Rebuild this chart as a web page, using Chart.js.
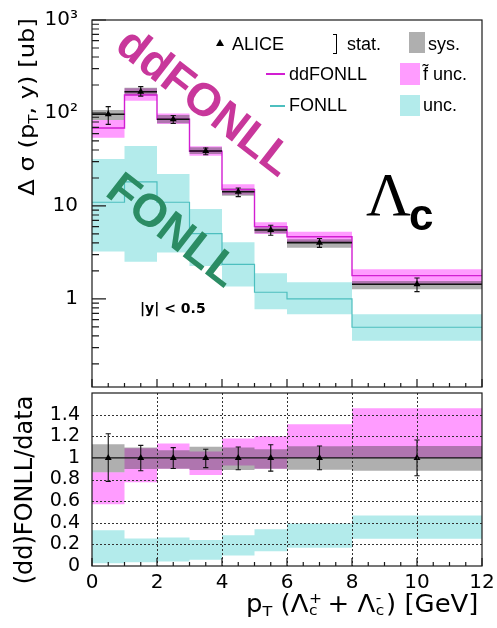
<!DOCTYPE html>
<html>
<head>
<meta charset="utf-8">
<script src="https://cdn.jsdelivr.net/npm/chart.js@4/dist/chart.umd.min.js"></script>
<style>
html,body{margin:0;padding:0;background:#fff;}
#wrap{position:relative;width:497px;height:628px;overflow:hidden;background:#fff;}
canvas{position:absolute;left:0;}
.t{position:absolute;white-space:nowrap;line-height:1;color:#000;}
.leg{font-family:"Liberation Sans",Arial,sans-serif;font-size:18px;}
.sub{font-size:0.62em;vertical-align:-0.3em;}
.ss{position:relative;display:inline-block;width:0.42em;height:0.7em;}
.ss .up{position:absolute;left:0.04em;top:-0.28em;font-size:0.6em;}
.ss .dn{position:absolute;left:0.04em;top:0.55em;font-size:0.6em;}
.sw{position:absolute;}
</style>
</head>
<body>
<div id="wrap">
<canvas id="topChart" width="497" height="410" style="top:0"></canvas>
<canvas id="ratioChart" width="497" height="255" style="top:373px"></canvas>

<!-- axis titles -->
<div class="t" style="left:28px;top:107px;font-family:'DejaVu Sans';font-size:22px;transform:translate(-50%,-50%) rotate(-90deg) scaleX(1.1);">Δ σ (p<span class="sub">T</span>, y) [ub]</div>
<div class="t" style="left:24px;top:490px;font-family:'DejaVu Sans';font-size:24px;transform:translate(-50%,-50%) rotate(-90deg);">(dd)FONLL/data</div>
<div class="t" style="left:246px;top:592px;font-family:'DejaVu Sans';font-size:24px;transform-origin:0 0;transform:scaleX(1.08);">p<span class="sub">T</span> (Λ<span class="ss"><span class="up">+</span><span class="dn">c</span></span> + Λ<span class="ss"><span class="up">-</span><span class="dn">c</span></span>) [GeV]</div>

<!-- legend -->
<div class="sw" style="left:216px;top:39px;width:0;height:0;border-left:4px solid transparent;border-right:4px solid transparent;border-bottom:7px solid #000;"></div>
<div class="t leg" style="left:232px;top:35px;">ALICE</div>
<div class="sw" style="left:333px;top:34px;width:3px;height:18px;border:1px solid #000;border-left:none;"></div>
<div class="t leg" style="left:347px;top:35px;">stat.</div>
<div class="sw" style="left:409px;top:32px;width:16px;height:21px;background:#afafaf;"></div>
<div class="t leg" style="left:428px;top:35px;">sys.</div>

<div class="sw" style="left:266px;top:73px;width:19px;height:1.5px;background:#d21ed2;"></div>
<div class="t leg" style="left:289px;top:65px;">ddFONLL</div>
<div class="sw" style="left:400px;top:63px;width:20px;height:22px;background:#ff9cff;"></div>
<div class="t leg" style="left:423px;top:65px;">f̃ unc.</div>

<div class="sw" style="left:270px;top:105px;width:15px;height:1.5px;background:#4dbfbf;"></div>
<div class="t leg" style="left:289px;top:96px;">FONLL</div>
<div class="sw" style="left:400px;top:95px;width:20px;height:21px;background:#b3ebeb;"></div>
<div class="t leg" style="left:423px;top:96px;">unc.</div>

<!-- annotations -->
<div class="t" style="left:206px;top:101px;transform:translate(-50%,-50%) rotate(38deg);font-family:'Liberation Sans';font-weight:bold;font-size:46px;color:#c8379b;">ddFONLL</div>
<div class="t" style="left:174px;top:229px;transform:translate(-50%,-50%) rotate(38deg);font-family:'Liberation Sans';font-weight:bold;font-size:46px;color:#2b8c64;">FONLL</div>
<div class="t" style="left:366px;top:163px;font-family:'Liberation Serif';font-size:62px;">Λ</div>
<div class="t" style="left:409px;top:193px;font-family:'Liberation Sans';font-weight:bold;font-size:44px;">c</div>
<div class="t" style="left:140px;top:301px;font-family:'DejaVu Sans';font-weight:bold;font-size:14px;">|y| &lt; 0.5</div>
</div>

<script>
// ---------------- data ----------------
const binEdges   = [0, 1, 2, 3, 4, 5, 6, 8, 12];
const binCenters = [0.5, 1.5, 2.5, 3.5, 4.5, 5.5, 7, 10];

// upper panel: d sigma (ub)
const aliceXsec     = [97, 169, 85.5, 39, 14.2, 5.52, 4.03, 1.44];
const aliceStatLow  = [75.5, 152, 77, 35.5, 12.6, 4.84, 3.59, 1.2];
const aliceStatHigh = [117, 192, 94, 42, 15.6, 6.2, 4.47, 1.68];
const aliceSysLow   = [84, 155, 77.5, 36.2, 12.9, 5.09, 3.56, 1.27];
const aliceSysHigh  = [108, 187, 95, 42.8, 15.5, 5.9, 4.38, 1.56];
const ddfonll       = [69, 156, 85.5, 38.7, 15, 6.0, 4.67, 1.78];
const ddfonllLow    = [54, 135, 76, 34.7, 13.2, 5.0, 4.03, 1.44];
const ddfonllHigh   = [84, 184, 99, 44, 17.1, 6.7, 5.29, 2.09];
const fonll         = [10.96, 18.2, 10.96, 5.04, 2.36, 1.18, 1.0, 0.496];
const fonllLow      = [3.23, 2.52, 3.15, 2.26, 1.36, 0.775, 0.684, 0.356];
const fonllHigh     = [32, 44.2, 22.1, 9.29, 4.07, 1.89, 1.51, 0.684];

// lower panel: ratio to data
const ratioData      = [1, 1, 1, 1, 1, 1, 1, 1];
const ratioStatLow   = [0.783, 0.881, 0.902, 0.91, 0.89, 0.877, 0.89, 0.835];
const ratioStatHigh  = [1.223, 1.116, 1.095, 1.08, 1.10, 1.122, 1.11, 1.165];
const ratioSysLow    = [0.866, 0.896, 0.9, 0.887, 0.887, 0.9, 0.89, 0.88];
const ratioSysHigh   = [1.125, 1.095, 1.07, 1.104, 1.095, 1.08, 1.107, 1.11];
const ratioDdLow     = [0.57, 0.774, 0.9, 0.841, 0.93, 0.9, 1.0, 1.0];
const ratioDdHigh    = [0.866, 1.09, 1.134, 1.06, 1.18, 1.2, 1.31, 1.46];
const ratioFonllLow  = [0.026, 0.035, 0.041, 0.057, 0.096, 0.136, 0.168, 0.253];
const ratioFonllHigh = [0.331, 0.255, 0.264, 0.24, 0.285, 0.339, 0.392, 0.468];

// ticks
const topTickValues   = [1, 10, 100, 1000];
const topTickLabels   = ['1', '10', '10²', '10³'];
const ratioTickValues = [0, 0.2, 0.4, 0.6, 0.8, 1, 1.2, 1.4];
const ratioTickLabels = ['0', '0.2', '0.4', '0.6', '0.8', '1', '1.2', '1.4'];
const xTickValues     = [0, 2, 4, 6, 8, 10, 12];
const xTickLabels     = ['0', '2', '4', '6', '8', '10', '12'];
const ratioGridY      = [0.2, 0.4, 0.6, 0.8, 1.2, 1.4];
const ratioGridX      = [2, 4, 6, 8, 10];
const ratioLine       = [1, 1];

// ---------------- helpers ----------------
const C = {
  cyanBand: '#b3ebeb', cyanLine: '#4dbfbf',
  pinkBand: '#ff9cff', magLine: '#d21ed2',
  sys: 'rgba(65,65,65,0.42)', black: '#111'
};
function stepPts(vals) {
  const pts = vals.map((v, i) => ({x: binEdges[i], y: v}));
  pts.push({x: binEdges[binEdges.length - 1], y: vals[vals.length - 1]});
  return pts;
}
function binLines(vals) {
  const pts = [];
  vals.forEach((v, i) => pts.push({x: binEdges[i], y: v}, {x: binEdges[i + 1], y: v}, {x: binEdges[i + 1], y: null}));
  return pts;
}
function errLines(lo, hi) {
  const pts = [];
  binCenters.forEach((c, i) => pts.push({x: c, y: lo[i]}, {x: c, y: hi[i]}, {x: c, y: null}));
  return pts;
}
function capLines(lo, hi, w) {
  const pts = [];
  binCenters.forEach((c, i) => {
    [lo[i], hi[i]].forEach(v => pts.push({x: c - w, y: v}, {x: c + w, y: v}, {x: c + w, y: null}));
  });
  return pts;
}
function band(hi, lo, color, order) {
  return [
    {data: stepPts(hi), stepped: 'before', fill: '+1', backgroundColor: color, borderWidth: 0, borderColor: 'rgba(0,0,0,0)', pointRadius: 0, order},
    {data: stepPts(lo), stepped: 'before', fill: false, borderWidth: 0, borderColor: 'rgba(0,0,0,0)', pointRadius: 0, order}
  ];
}
function stepLine(vals, color, width, order) {
  return {data: stepPts(vals), stepped: 'before', fill: false, borderColor: color, borderWidth: width, pointRadius: 0, order};
}
function segs(data, color, width, order) {
  return {data, fill: false, borderColor: color, borderWidth: width, pointRadius: 0, spanGaps: false, order};
}
function markers(xs, ys, order) {
  return {data: xs.map((x, i) => ({x, y: ys[i]})), showLine: false, pointStyle: 'triangle', pointRadius: 4,
          backgroundColor: '#000', borderColor: '#000', borderWidth: 0, order};
}

const framePlugin = {
  id: 'frame',
  afterDatasetsDraw(chart, args, o) {
    const {ctx, chartArea: a} = chart;
    const xs = chart.scales.x, ys = chart.scales.y;
    ctx.save();
    if (o.gridY) {
      ctx.strokeStyle = '#333'; ctx.lineWidth = 1; ctx.setLineDash([2, 2]);
      ctx.beginPath();
      o.gridY.forEach(v => { const y = Math.round(ys.getPixelForValue(v)) + 0.5; ctx.moveTo(a.left, y); ctx.lineTo(a.right, y); });
      o.gridX.forEach(v => { const x = Math.round(xs.getPixelForValue(v)) + 0.5; ctx.moveTo(x, a.top); ctx.lineTo(x, a.bottom); });
      ctx.stroke();
      ctx.setLineDash([]);
    }
    ctx.strokeStyle = '#1a1a1a'; ctx.lineWidth = 1.2;
    ctx.beginPath();
    for (let v = xs.min; v <= xs.max + 1e-9; v += o.xMinorStep) {
      const x = xs.getPixelForValue(v);
      const major = Math.abs(v / o.xMajorStep - Math.round(v / o.xMajorStep)) < 1e-6;
      ctx.moveTo(x, a.bottom); ctx.lineTo(x, a.bottom - (major ? o.xMajorLen : o.xMinorLen));
    }
    if (o.logTicks) {
      for (let k = -1; k <= 3; k++) for (let m = 1; m <= 9; m++) {
        const v = m * Math.pow(10, k);
        if (v < ys.min || v > ys.max) continue;
        const y = ys.getPixelForValue(v);
        ctx.moveTo(a.left, y); ctx.lineTo(a.left + (m === 1 ? o.yMajorLen : o.yMinorLen), y);
      }
    }
    ctx.stroke();
    ctx.strokeRect(a.left, a.top, a.right - a.left, a.bottom - a.top);
    ctx.restore();
  }
};

const tickFont = {family: 'DejaVu Sans', size: 20};
function isClose(a, b) { return Math.abs(a - b) < 1e-6 * Math.max(1, Math.abs(b)); }

// ---------------- upper chart ----------------
new Chart(document.getElementById('topChart'), {
  type: 'line',
  data: {datasets: [
    ...band(fonllHigh, fonllLow, C.cyanBand, 20),
    stepLine(fonll, C.cyanLine, 1.2, 19),
    ...band(ddfonllHigh, ddfonllLow, C.pinkBand, 18),
    ...band(aliceSysHigh, aliceSysLow, C.sys, 17),
    stepLine(ddfonll, C.magLine, 1.4, 16),
    segs(binLines(aliceXsec), C.black, 1.6, 15),
    segs(errLines(aliceStatLow, aliceStatHigh), C.black, 1.1, 14),
    segs(capLines(aliceStatLow, aliceStatHigh, 0.08), C.black, 1.1, 14),
    markers(binCenters, aliceXsec, 1)
  ]},
  options: {
    responsive: false, animation: false, events: [],
    layout: {padding: {left: 0, right: 15, top: 20, bottom: 23}},
    plugins: {
      legend: {display: false}, tooltip: {enabled: false},
      frame: {xMinorStep: 0.5, xMajorStep: 2, xMinorLen: 4, xMajorLen: 8, logTicks: true, yMajorLen: 14, yMinorLen: 7}
    },
    scales: {
      x: {type: 'linear', min: 0, max: 12, display: false},
      y: {
        type: 'logarithmic', min: 0.113, max: 1000,
        afterBuildTicks: s => { s.ticks = topTickValues.map(v => ({value: v})); },
        afterFit: s => { s.width = 92; },
        grid: {display: false}, border: {display: false},
        ticks: {autoSkip: false, padding: 6, color: '#000', font: tickFont,
          callback: (v) => { const i = topTickValues.findIndex(t => isClose(v, t)); return i >= 0 ? topTickLabels[i] : null; }}
      }
    }
  },
  plugins: [framePlugin]
});

// ---------------- ratio chart ----------------
new Chart(document.getElementById('ratioChart'), {
  type: 'line',
  data: {datasets: [
    ...band(ratioFonllHigh, ratioFonllLow, C.cyanBand, 20),
    ...band(ratioDdHigh, ratioDdLow, C.pinkBand, 18),
    ...band(ratioSysHigh, ratioSysLow, C.sys, 17),
    segs([{x: binEdges[0], y: ratioLine[0]}, {x: binEdges[binEdges.length - 1], y: ratioLine[1]}], C.black, 1.4, 15),
    segs(errLines(ratioStatLow, ratioStatHigh), C.black, 1.1, 14),
    segs(capLines(ratioStatLow, ratioStatHigh, 0.08), C.black, 1.1, 14),
    markers(binCenters, ratioData, 1)
  ]},
  options: {
    responsive: false, animation: false, events: [],
    layout: {padding: {left: 0, right: 15, top: 20, bottom: 0}},
    plugins: {
      legend: {display: false}, tooltip: {enabled: false},
      frame: {xMinorStep: 0.5, xMajorStep: 2, xMinorLen: 4, xMajorLen: 8, logTicks: false, gridY: ratioGridY, gridX: ratioGridX}
    },
    scales: {
      x: {
        type: 'linear', min: 0, max: 12,
        afterBuildTicks: s => { s.ticks = xTickValues.map(v => ({value: v})); },
        afterFit: s => { s.height = 62; },
        grid: {display: false}, border: {display: false},
        ticks: {autoSkip: false, maxRotation: 0, padding: -3, color: '#000', font: tickFont,
          callback: (v) => { const i = xTickValues.findIndex(t => isClose(v, t)); return i >= 0 ? xTickLabels[i] : null; }}
      },
      y: {
        type: 'linear', min: 0, max: 1.6,
        afterBuildTicks: s => { s.ticks = ratioTickValues.map(v => ({value: v})); },
        afterFit: s => { s.width = 92; },
        grid: {display: false}, border: {display: false},
        ticks: {autoSkip: false, padding: 4, color: '#000', font: {family: 'DejaVu Sans', size: 19},
          callback: (v) => { const i = ratioTickValues.findIndex(t => isClose(v, t)); return i >= 0 ? ratioTickLabels[i] : null; }}
      }
    }
  },
  plugins: [framePlugin]
});
</script>
</body>
</html>
